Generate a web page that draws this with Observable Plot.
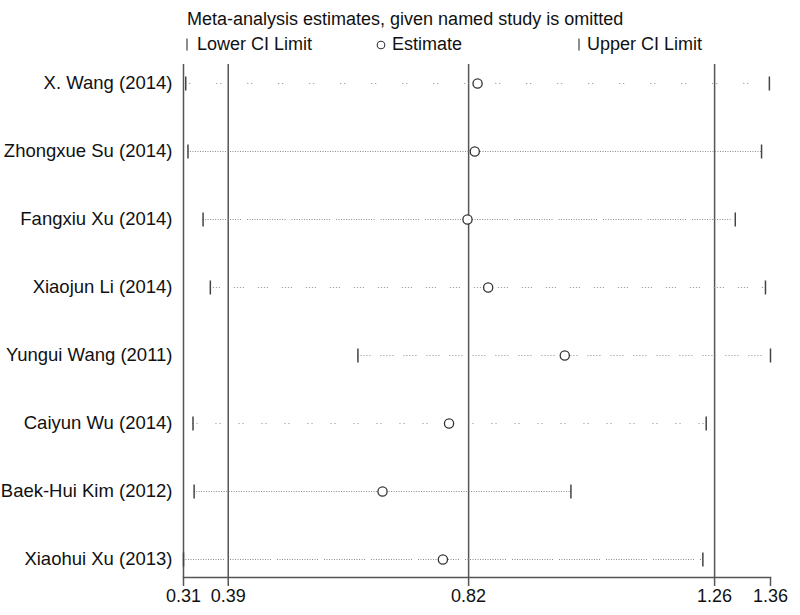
<!DOCTYPE html>
<html>
<head>
<meta charset="utf-8">
<script src="https://cdn.jsdelivr.net/npm/d3@7"></script>
<script src="https://cdn.jsdelivr.net/npm/@observablehq/plot@0.6"></script>
<style>
  html, body { margin: 0; padding: 0; background: #fff; }
  #wrap { width: 800px; height: 615px; overflow: hidden; font-family: Arial, "Liberation Sans", sans-serif; }
  #head { display: block; }
</style>
</head>
<body>
<div id="wrap">
  <svg id="head" width="800" height="56" xmlns="http://www.w3.org/2000/svg" font-family="Arial, 'Liberation Sans', sans-serif" font-size="18" fill="#111">
    <text x="187" y="25">Meta-analysis estimates, given named study is omitted</text>
    <line x1="187" x2="187" y1="38.5" y2="50.5" stroke="#444" stroke-width="1.2"></line>
    <text x="197" y="50">Lower CI Limit</text>
    <circle cx="381" cy="45" r="3.8" fill="none" stroke="#333" stroke-width="1.1"></circle>
    <text x="392" y="50">Estimate</text>
    <line x1="579" x2="579" y1="38.5" y2="50.5" stroke="#444" stroke-width="1.2"></line>
    <text x="587" y="50">Upper CI Limit</text>
  </svg>
  <div id="chart"></div>
</div>
<script>
// ---- data ----
const studies = [
  "X. Wang (2014)",
  "Zhongxue Su (2014)",
  "Fangxiu Xu (2014)",
  "Xiaojun Li (2014)",
  "Yungui Wang (2011)",
  "Caiyun Wu (2014)",
  "Baek-Hui Kim (2012)",
  "Xiaohui Xu (2013)"
];
const estimates = [0.836, 0.831, 0.818, 0.855, 0.992, 0.785, 0.666, 0.774];
const lowerCI   = [0.314, 0.318, 0.345, 0.358, 0.622, 0.327, 0.329, 0.310];
const upperCI   = [1.358, 1.344, 1.297, 1.351, 1.360, 1.245, 1.003, 1.239];
const axisMin = 0.31;
const axisMax = 1.36;
const referenceLines = [0.39, 0.82, 1.26];
const tickValues = [0.31, 0.39, 0.82, 1.26, 1.36];

// ---- styles (one dotted pattern per row, as in the original rendering) ----
const rowDash = [
  "1,3,1,26",
  "1,1.5",
  "1,1.5,1,1.5,1,1.5,1,1.5,1,1.5,1,1.5,1,1.5,1,1.5,1,1.5,1,1.5,1,1.5,1,1.5,1,1.5,1,1.5,1,1.5,1,6",
  "1,2,1,2,1,2,1,14",
  "1,2,1,2,1,2,1,2,1,10",
  "1,3,1,18",
  "1,1.5",
  "1,1.5,1,1.5,1,1.5,1,1.5,1,1.5,1,1.5,1,1.5,1,1.5,1,1.5,1,1.5,1,1.5,1,1.5,1,1.5,1,1.5,1,1.5,1,1.5,1,6"
];

const rows = studies.map((s, i) => ({study: s, est: estimates[i], lower: lowerCI[i], upper: upperCI[i]}));

// vertical bar symbol for CI caps (half-length equals the dot radius)
const capSymbol = {
  draw(context, size) {
    const h = Math.sqrt(size / Math.PI);
    context.moveTo(0, -h);
    context.lineTo(0, h);
  }
};

const fontFamily = "Arial, 'Liberation Sans', sans-serif";

const chart = Plot.plot({
  width: 800,
  height: 559,
  marginLeft: 183,
  marginRight: 30,
  marginTop: 8,
  marginBottom: 38,
  style: {fontFamily, fontSize: "18px", color: "#111", background: "#fff"},
  x: {domain: [axisMin, axisMax], label: null},
  y: {type: "point", domain: studies, padding: 0.27, label: null},
  marks: [
    Plot.ruleX([axisMin, ...referenceLines], {stroke: "#555", strokeWidth: 1.5}),
    ...rows.map((r, i) => Plot.ruleY([r], {
      y: "study", x1: "lower", x2: "upper",
      stroke: "#8a8a8a", strokeWidth: 1, strokeDasharray: rowDash[i]
    })),
    Plot.dot(rows, {x: "lower", y: "study", symbol: capSymbol, r: 7, fill: "none", stroke: "#444", strokeWidth: 1.5}),
    Plot.dot(rows, {x: "upper", y: "study", symbol: capSymbol, r: 7, fill: "none", stroke: "#444", strokeWidth: 1.5}),
    Plot.dot(rows, {x: "est", y: "study", r: 4.6, stroke: "#333", strokeWidth: 1.3, fill: "white"}),
    Plot.frame({anchor: "bottom", stroke: "#555", strokeWidth: 1.5}),
    Plot.axisX({
      ticks: tickValues, tickFormat: d3.format(".2f"), tickSize: 9, tickPadding: 3,
      fontSize: 18, stroke: "#555", strokeWidth: 1.5, strokeOpacity: 1, label: null, fill: "#111"
    }),
    Plot.axisY({tickSize: 0, tickPadding: 11, fontSize: 18.5, label: null, fill: "#111"})
  ]
});
document.getElementById("chart").appendChild(chart);
</script>
</body>
</html>
